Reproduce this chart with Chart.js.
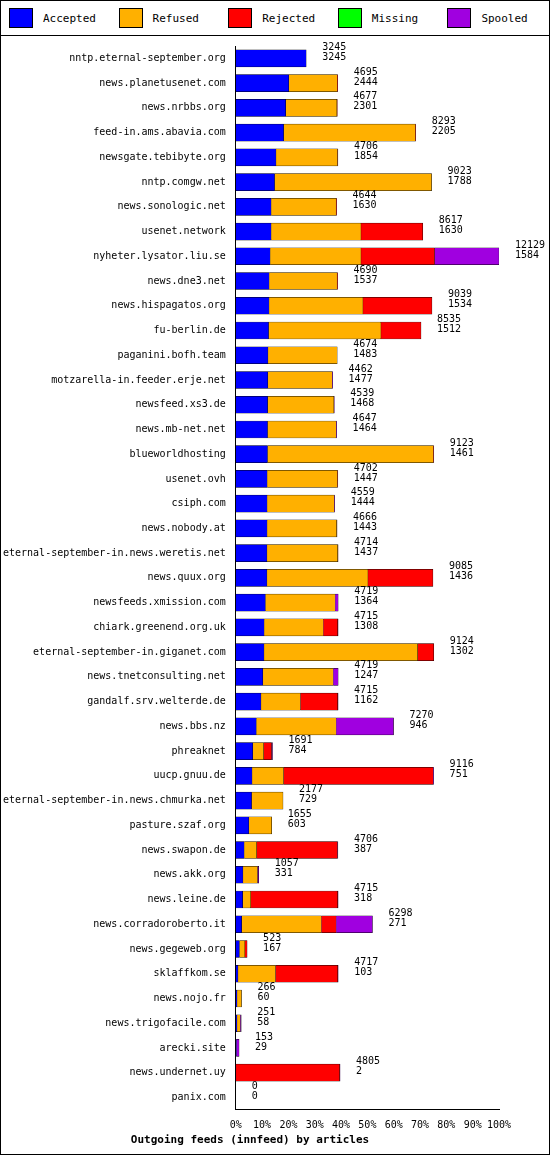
<!DOCTYPE html>
<html>
<head>
<meta charset="utf-8">
<script src="https://cdn.jsdelivr.net/npm/chart.js@4"></script>
<style>
  body { margin: 0; background: #fff; font-family: "DejaVu Sans Mono", monospace; }
  #wrap { width: 548px; height: 1153px; border: 1px solid #000; position: relative; }
  #legend { height: 34px; border-bottom: 1px solid #000; display: flex; align-items: center; font-size: 11px; }
  .item { display: flex; align-items: center; width: 110px; padding-left: 8px; box-sizing: border-box; }
  .sw { width: 22px; height: 18px; border: 1px solid #000; margin-right: 10px; }
  #c { position: absolute; left: 0; top: 35px; }
</style>
</head>
<body>
<div id="wrap">
  <div id="legend"></div>
  <canvas id="c" width="548" height="1117"></canvas>
</div>
<script>
// feeds, top to bottom
const feeds = ["nntp.eternal-september.org","news.planetusenet.com","news.nrbbs.org","feed-in.ams.abavia.com","newsgate.tebibyte.org","nntp.comgw.net","news.sonologic.net","usenet.network","nyheter.lysator.liu.se","news.dne3.net","news.hispagatos.org","fu-berlin.de","paganini.bofh.team","motzarella-in.feeder.erje.net","newsfeed.xs3.de","news.mb-net.net","blueworldhosting","usenet.ovh","csiph.com","news.nobody.at","eternal-september-in.news.weretis.net","news.quux.org","newsfeeds.xmission.com","chiark.greenend.org.uk","eternal-september-in.giganet.com","news.tnetconsulting.net","gandalf.srv.welterde.de","news.bbs.nz","phreaknet","uucp.gnuu.de","eternal-september-in.news.chmurka.net","pasture.szaf.org","news.swapon.de","news.akk.org","news.leine.de","news.corradoroberto.it","news.gegeweb.org","sklaffkom.se","news.nojo.fr","news.trigofacile.com","arecki.site","news.undernet.uy","panix.com"];
const totals = [3245,4695,4677,8293,4706,9023,4644,8617,12129,4690,9039,8535,4674,4462,4539,4647,9123,4702,4559,4666,4714,9085,4719,4715,9124,4719,4715,7270,1691,9116,2177,1655,4706,1057,4715,6298,523,4717,266,251,153,4805,0];
const accepted = [3245,2444,2301,2205,1854,1788,1630,1630,1584,1537,1534,1512,1483,1477,1468,1464,1461,1447,1444,1443,1437,1436,1364,1308,1302,1247,1162,946,784,751,729,603,387,331,318,271,167,103,60,58,29,2,0];
const refused = [0,2231,2356,6068,2832,7235,2994,4140,4186,3133,4326,5178,3191,2965,3051,3163,7642,3235,3095,3203,3257,4654,3216,2722,7078,3243,1815,3680,498,1449,1448,1052,573,670,372,3669,250,1727,206,150,0,0,0];
const rejected = [0,20,20,20,20,0,20,2847,3390,20,3179,1845,0,0,0,0,20,20,0,20,20,2995,0,665,744,0,1718,0,366,6896,0,0,3726,0,4005,685,106,2867,0,0,0,4783,0];
const missing = new Array(43).fill(0);
const spooled = [0,0,0,0,0,0,0,0,2969,0,0,0,0,20,20,20,0,0,20,0,0,0,139,20,0,229,20,2644,43,20,0,0,20,56,20,1673,0,20,0,43,124,20,0];

const names = ["Accepted","Refused","Rejected","Missing","Spooled"];
const colors = ["#0000ff","#ffb000","#ff0000","#00ff00","#a000e0"];
const maxTotal = 12129;

document.getElementById("legend").innerHTML = names.map((n, i) =>
  `<div class="item"><div class="sw" style="background:${colors[i]}"></div>${n}</div>`).join("");

// number labels to the right of each bar
const numberLabels = {
  id: "numberLabels",
  afterDatasetsDraw(chart) {
    const ctx = chart.ctx, x = chart.scales.x, y = chart.scales.y;
    ctx.save();
    ctx.font = "10px 'DejaVu Sans Mono', monospace";
    ctx.fillStyle = "#000";
    ctx.textBaseline = "middle";
    feeds.forEach((f, i) => {
      const px = x.getPixelForValue(totals[i]) + 16;
      const py = y.getPixelForValue(i);
      ctx.fillText(String(totals[i]), px, py - 11);
      ctx.fillText(String(accepted[i]), px, py - 1);
    });
    ctx.restore();
  }
};

const series = [accepted, refused, rejected, missing, spooled];
new Chart(document.getElementById("c"), {
  type: "bar",
  data: {
    labels: feeds,
    datasets: series.map((d, i) => ({
      label: names[i], data: d, backgroundColor: colors[i],
      borderColor: "#000", borderWidth: 0.5, barThickness: 17
    }))
  },
  options: {
    indexAxis: "y",
    responsive: false,
    devicePixelRatio: 1,
    animation: false,
    layout: { padding: { right: 50, top: 10, left: 0 } },
    plugins: {
      legend: { display: false },
      tooltip: { enabled: false },
      title: {
        display: true, position: "bottom", text: "Outgoing feeds (innfeed) by articles",
        color: "#000", font: { family: "DejaVu Sans Mono", size: 11, weight: "bold" }, padding: { top: 0, bottom: 6 }
      }
    },
    scales: {
      x: {
        stacked: true, min: 0, max: maxTotal,
        afterBuildTicks: s => { s.ticks = [0,1,2,3,4,5,6,7,8,9,10].map(k => ({ value: maxTotal * k / 10 })); },
        ticks: { color: "#000", font: { family: "DejaVu Sans Mono", size: 10 }, maxRotation: 0, autoSkip: false, padding: 2,
          callback: (v, i) => (i * 10) + "%" },
        grid: { display: false },
        border: { color: "#000" }
      },
      y: {
        stacked: true,
        ticks: { color: "#000", autoSkip: false, padding: 2, font: { family: "DejaVu Sans Mono", size: 10 } },
        grid: { display: false },
        border: { color: "#000" }
      }
    }
  },
  plugins: [numberLabels]
});
</script>
</body>
</html>
